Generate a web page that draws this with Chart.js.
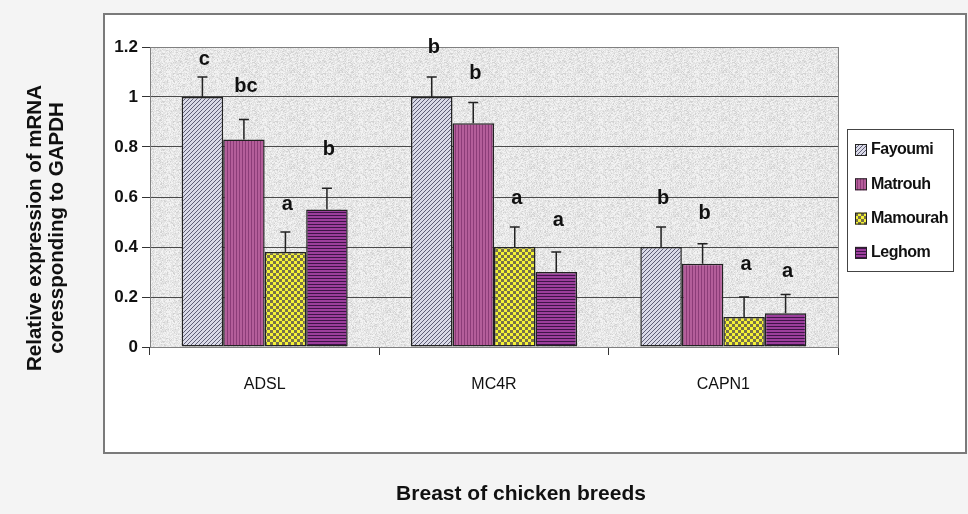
<!DOCTYPE html>
<html>
<head>
<meta charset="utf-8">
<script src="https://cdn.jsdelivr.net/npm/chart.js@4.4.1/dist/chart.umd.min.js"></script>
<style>
  html, body { margin: 0; padding: 0; background: #f4f4f4; }
  canvas { display: block; }
</style>
</head>
<body>
<canvas id="expression-chart" width="968" height="514"></canvas>
<script>
const categories = ["ADSL", "MC4R", "CAPN1"];
const breeds = ["Fayoumi", "Matrouh", "Mamourah", "Leghom"];

const fayoumi = [1.0, 1.0, 0.40];
const matrouh = [0.83, 0.895, 0.333];
const mamourah = [0.38, 0.40, 0.12];
const leghom = [0.55, 0.30, 0.135];

const fayoumiErr = [0.08, 0.08, 0.08];
const matrouhErr = [0.08, 0.083, 0.08];
const mamourahErr = [0.08, 0.08, 0.08];
const leghomErr = [0.085, 0.08, 0.075];

// significance letters and the value level where each one sits
const fayoumiSig = ["c", "b", "b"];
const matrouhSig = ["bc", "b", "b"];
const mamourahSig = ["a", "a", "a"];
const leghomSig = ["b", "a", "a"];
const fayoumiSigAt = [1.152, 1.2, 0.596];
const matrouhSigAt = [1.044, 1.093, 0.536];
const mamourahSigAt = [0.572, 0.596, 0.332];
const leghomSigAt = [0.792, 0.508, 0.304];

const yTicks = [0, 0.2, 0.4, 0.6, 0.8, 1, 1.2];

const FONT = "'Liberation Sans', Arial, sans-serif";

function tile(w, h, paint) {
  const c = document.createElement("canvas");
  c.width = w;
  c.height = h;
  const g = c.getContext("2d");
  paint(g);
  return g.createPattern(c, "repeat");
}

const hatchFayoumi = tile(4, 4, (g) => {
  g.fillStyle = "#dadae8";
  g.fillRect(0, 0, 4, 4);
  g.fillStyle = "#5e5e76";
  for (let i = 0; i < 4; i++) g.fillRect(i, 3 - i, 1, 1);
});
const hatchMatrouh = tile(3, 1, (g) => {
  g.fillStyle = "#b45e9a";
  g.fillRect(0, 0, 3, 1);
  g.fillStyle = "#8c3c78";
  g.fillRect(2, 0, 1, 1);
});
const hatchMamourah = tile(6, 6, (g) => {
  g.fillStyle = "#f4f236";
  g.fillRect(0, 0, 6, 6);
  g.fillStyle = "#77704a";
  g.fillRect(0, 0, 3, 3);
  g.fillRect(3, 3, 3, 3);
});
const hatchLeghom = tile(1, 3, (g) => {
  g.fillStyle = "#9c3e9c";
  g.fillRect(0, 0, 1, 3);
  g.fillStyle = "#3e1448";
  g.fillRect(0, 2, 1, 1);
});
const plotTexture = tile(48, 48, (g) => {
  g.fillStyle = "#e3e3e3";
  g.fillRect(0, 0, 48, 48);
  for (let y = 0; y < 48; y++) {
    for (let x = 0; x < 48; x++) {
      const h = Math.abs(Math.sin(x * 12.9898 + y * 78.233) * 43758.5453) % 1;
      if (h > 0.62) {
        g.fillStyle = "#f2f2f2";
        g.fillRect(x, y, 1, 1);
      } else if (h < 0.12) {
        g.fillStyle = "#d2d2d2";
        g.fillRect(x, y, 1, 1);
      }
    }
  }
});

const errors = [fayoumiErr, matrouhErr, mamourahErr, leghomErr];
const sigLetters = [fayoumiSig, matrouhSig, mamourahSig, leghomSig];
const sigLevels = [fayoumiSigAt, matrouhSigAt, mamourahSigAt, leghomSigAt];

const backdrop = {
  id: "backdrop",
  beforeDraw(chart) {
    const { ctx, chartArea } = chart;
    ctx.save();
    ctx.fillStyle = "#f4f4f4";
    ctx.fillRect(0, 0, chart.width, chart.height);
    ctx.fillStyle = "#ffffff";
    ctx.fillRect(104, 14, 862, 439);
    ctx.strokeStyle = "#7a7a7a";
    ctx.lineWidth = 2;
    ctx.strokeRect(104, 14, 862, 439);
    ctx.fillStyle = plotTexture;
    ctx.fillRect(chartArea.left, chartArea.top, chartArea.width, chartArea.height);
    ctx.restore();
  },
  beforeDatasetsDraw(chart) {
    const { ctx, chartArea } = chart;
    ctx.save();
    ctx.strokeStyle = "#808080";
    ctx.lineWidth = 1;
    ctx.strokeRect(chartArea.left + 0.5, chartArea.top + 0.5, chartArea.width, chartArea.height);
    ctx.restore();
  },
  afterDatasetsDraw(chart) {
    const { ctx } = chart;
    const y = chart.scales.y;
    ctx.save();
    chart.data.datasets.forEach((ds, i) => {
      const meta = chart.getDatasetMeta(i);
      meta.data.forEach((bar, j) => {
        const top = y.getPixelForValue(ds.data[j] + errors[i][j]);
        ctx.strokeStyle = "#222";
        ctx.lineWidth = 1.5;
        ctx.beginPath();
        ctx.moveTo(bar.x, bar.y);
        ctx.lineTo(bar.x, top);
        ctx.moveTo(bar.x - 5, top);
        ctx.lineTo(bar.x + 5, top);
        ctx.stroke();
        ctx.fillStyle = "#111";
        ctx.font = "bold 20px " + FONT;
        ctx.textAlign = "center";
        ctx.textBaseline = "middle";
        ctx.fillText(sigLetters[i][j], bar.x + 2, y.getPixelForValue(sigLevels[i][j]));
      });
    });
    ctx.restore();
  },
  afterDraw(chart) {
    const { ctx, chartArea } = chart;
    ctx.save();
    // legend
    const lx = chartArea.right + 9;
    const ly = 129;
    ctx.fillStyle = "#ffffff";
    ctx.fillRect(lx, ly, 106, 142);
    ctx.strokeStyle = "#444";
    ctx.lineWidth = 1;
    ctx.strokeRect(lx + 0.5, ly + 0.5, 106, 142);
    ctx.font = "bold 16px " + FONT;
    ctx.letterSpacing = "-0.5px";
    ctx.textAlign = "left";
    ctx.textBaseline = "middle";
    chart.data.datasets.forEach((ds, i) => {
      const cy = ly + 21 + i * 34.3;
      ctx.fillStyle = ds.backgroundColor;
      ctx.fillRect(lx + 8, cy - 6, 12, 12);
      ctx.strokeStyle = "#222";
      ctx.strokeRect(lx + 8.5, cy - 5.5, 11, 11);
      ctx.fillStyle = "#111";
      ctx.fillText(ds.label, lx + 24, cy);
    });
    // axis titles
    ctx.letterSpacing = "0px";
    ctx.fillStyle = "#111";
    ctx.font = "bold 21px " + FONT;
    ctx.textAlign = "center";
    ctx.fillText("Breast of chicken breeds", 521, 494);
    ctx.font = "bold 20.5px " + FONT;
    ctx.translate(0, 228);
    ctx.rotate(-Math.PI / 2);
    ctx.fillText("Relative expression of mRNA", 0, 35);
    ctx.fillText("coressponding to GAPDH", 0, 57);
    ctx.restore();
  },
};

new Chart(document.getElementById("expression-chart"), {
  type: "bar",
  data: {
    labels: categories,
    datasets: [
      { label: breeds[0], data: fayoumi, backgroundColor: hatchFayoumi },
      { label: breeds[1], data: matrouh, backgroundColor: hatchMatrouh },
      { label: breeds[2], data: mamourah, backgroundColor: hatchMamourah },
      { label: breeds[3], data: leghom, backgroundColor: hatchLeghom },
    ],
  },
  options: {
    responsive: false,
    animation: false,
    devicePixelRatio: 1,
    layout: { padding: { top: 47, right: 130, bottom: 0, left: 0 } },
    datasets: {
      bar: {
        borderColor: "#222",
        borderWidth: 1.5,
        borderSkipped: false,
        barPercentage: 1,
        categoryPercentage: 0.724,
      },
    },
    plugins: {
      legend: { display: false },
      tooltip: { enabled: false },
    },
    scales: {
      x: {
        afterFit: (s) => { s.height = 167; },
        grid: {
          display: true,
          drawOnChartArea: false,
          offset: true,
          tickLength: 8,
          tickColor: "#333",
        },
        border: { color: "#333", width: 1 },
        ticks: {
          color: "#111",
          padding: 20,
          font: { family: FONT, size: 16 },
        },
      },
      y: {
        min: 0,
        max: 1.2,
        afterFit: (s) => { s.width = 150; },
        afterBuildTicks: (s) => { s.ticks = yTicks.map((v) => ({ value: v })); },
        grid: {
          color: "#4a4a4a",
          lineWidth: 1,
          tickLength: 8,
          tickColor: "#333",
        },
        border: { color: "#333", width: 1 },
        ticks: {
          color: "#111",
          padding: 4,
          font: { family: FONT, size: 17, weight: "bold" },
          callback: (v) => String(v),
        },
      },
    },
  },
  plugins: [backdrop],
});
</script>
</body>
</html>
